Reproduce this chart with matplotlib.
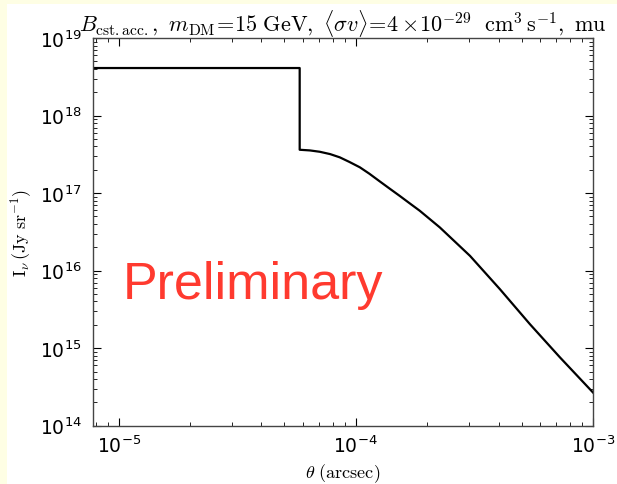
import matplotlib
matplotlib.use("Agg")
import matplotlib.pyplot as plt
import matplotlib.ticker as ticker
from matplotlib.patches import Rectangle

# profile (theta in arcsec, intensity in Jy/sr)
theta = [7.8e-6, 5.8e-5, 5.8e-5, 6.4e-5, 7.05e-5, 7.8e-5, 8.56e-5, 9.4e-5, 1.04e-4,
         1.14e-4, 1.26e-4, 1.39e-4, 1.53e-4, 1.69e-4, 1.86e-4, 2.26e-4, 3.03e-4,
         4.05e-4, 5.42e-4, 7.26e-4, 1.0e-3]
intensity = [4.1e18, 4.1e18, 3.62e17, 3.55e17, 3.41e17, 3.18e17, 2.89e17, 2.52e17, 2.15e17,
             1.78e17, 1.42e17, 1.14e17, 9.22e16, 7.35e16, 5.92e16, 3.61e16, 1.55e16,
             5.77e15, 2.04e15, 7.59e14, 2.68e14]

xlim = (7.8e-6, 1e-3)
ylim = (1e14, 1e19)

fig = plt.figure(figsize=(6.17, 4.85), dpi=100)
fig.patch.set_facecolor("#fefee4")
# white sheet sitting inside the pale yellow frame
fig.patches.append(Rectangle((7 / 617, 0), 1, (485 - 5) / 485, transform=fig.transFigure,
                             facecolor="white", edgecolor="none", zorder=-10))

ax = fig.add_axes([93 / 617, 1 - 426.7 / 485, 500 / 617, 387.7 / 485])
ax.set_zorder(1)
ax.plot(theta, intensity, color="black", lw=1.6)
ax.set_xscale("log")
ax.set_yscale("log")
ax.set_xlim(xlim)
ax.set_ylim(ylim)

ax.xaxis.set_major_locator(ticker.LogLocator(base=10))
ax.yaxis.set_major_locator(ticker.LogLocator(base=10))
ax.tick_params(which="both", direction="in", top=True, right=True, labelsize=13.5)
ax.tick_params(which="major", length=6, width=0.8)
ax.tick_params(which="minor", length=3, width=0.6)
ax.tick_params(axis="x", pad=6)
ax.tick_params(axis="y", pad=8)
for s in ax.spines.values():
    s.set_linewidth(1.0)
    s.set_color("#444444")

ax.set_title(r"$B_{\rm cst.acc.},\ m_{\rm DM}\!=\!15\ {\rm GeV},\ \langle\sigma v\rangle\!=\!4\times\!10^{-29}\ \ {\rm cm^3\,s^{-1}},\ {\rm mu}$",
             fontsize=16, pad=2, math_fontfamily="cm")
ax.set_xlabel(r"$\theta\ ({\rm arcsec})$", fontsize=13, math_fontfamily="cm", labelpad=4)
ax.set_ylabel(r"${\rm I}_\nu\,({\rm Jy\ sr^{-1}})$", fontsize=13, math_fontfamily="cm", labelpad=4)

ax.text(0.06, 0.329, "Preliminary", transform=ax.transAxes, color="#ff3a2f",
        fontsize=37.5, family="Liberation Sans", va="baseline", ha="left")

fig.savefig("out.png", dpi=100, facecolor=fig.get_facecolor())
